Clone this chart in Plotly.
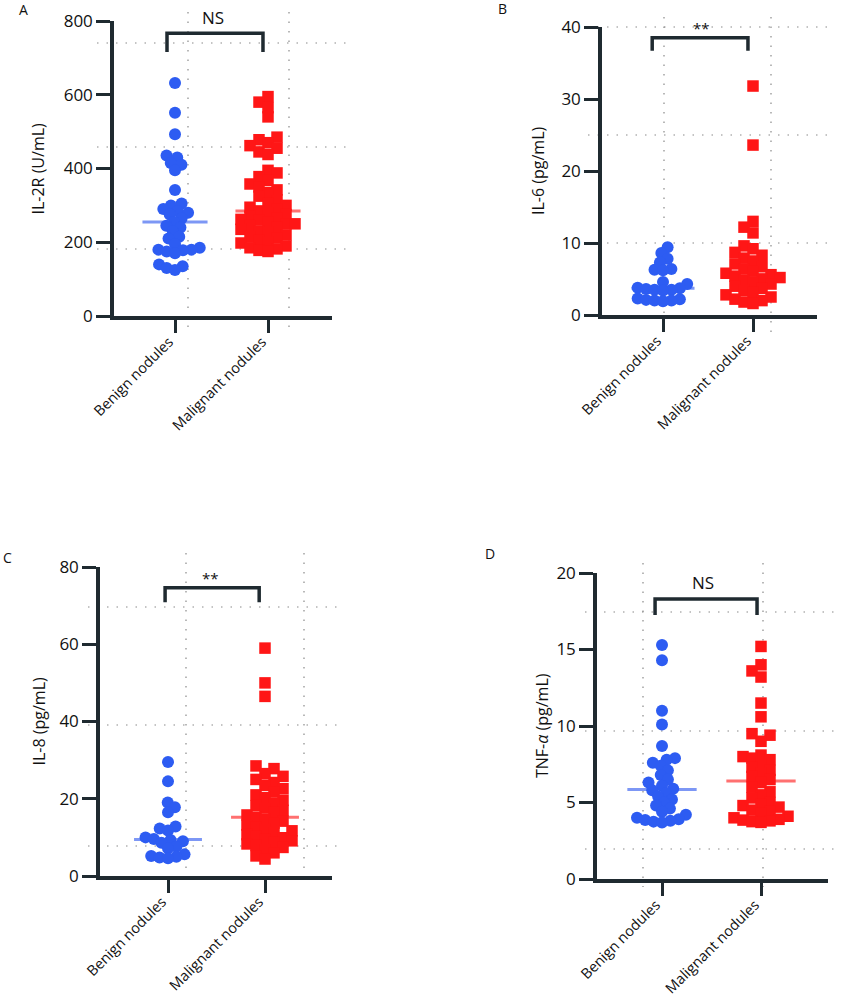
import numpy as np
import plotly.graph_objects as go

# ---------------- data ----------------
categories = ["Benign nodules", "Malignant nodules"]
panel_letters = ["A", "B", "C", "D"]
y_titles = ["IL-2R (U/mL)", "IL-6 (pg/mL)", "IL-8 (pg/mL)", "TNF-<i>α</i> (pg/mL)"]
y_max = [800, 40, 80, 20]
y_dtick = [200, 10, 20, 5]
significance = ["NS", "**", "**", "NS"]

il2r_benign = [632, 551, 493, 435, 430, 415, 410, 395, 342, 305, 300, 290, 285, 280, 275,
               265, 255, 245, 240, 230, 215, 210, 195, 185, 180, 180, 178, 175, 170,
               140, 135, 130, 125]
il2r_malignant = [595, 580, 565, 540, 485, 478, 470, 462, 455, 445, 438, 395, 388, 378,
                  368, 358, 350, 342, 335, 325, 315, 305, 300, 295, 290, 285, 280, 275,
                  270, 265, 262, 260, 255, 250, 250, 245, 240, 235, 230, 228, 220, 215,
                  212, 205, 200, 198, 190, 185, 182, 178, 175]
il6_benign = [9.4, 8.6, 7.8, 7.3, 6.4, 6.3, 6.2, 4.6, 4.3, 3.8, 3.7, 3.6, 3.5, 3.5, 3.4,
              2.3, 2.2, 2.1, 2.0, 2.0, 1.9]
il6_malignant = [31.8, 23.6, 13.0, 12.2, 11.4, 9.6, 9.2, 8.7, 8.3, 7.9, 7.5, 7.1, 6.7, 6.4,
                 6.1, 5.8, 5.6, 5.4, 5.2, 5.0, 4.8, 4.6, 4.3, 4.0, 3.7, 3.4, 3.1, 2.8, 2.5,
                 2.2, 2.0, 1.8, 1.6]
il8_benign = [29.5, 24.5, 19.0, 17.8, 16.5, 12.8, 12.3, 11.8, 10.0, 9.6, 9.3, 9.0, 8.6,
              7.6, 7.2, 5.6, 5.2, 5.0, 4.8, 4.6]
il8_malignant = [59, 50, 46.5, 28.5, 27.8, 26.5, 25.8, 25.0, 24.2, 23.5, 22.6, 21.8, 21.0,
                 20.3, 19.6, 18.9, 18.2, 17.6, 17.0, 16.4, 15.8, 15.2, 14.7, 14.2, 13.7,
                 13.2, 12.7, 12.2, 11.7, 11.2, 10.7, 10.3, 9.9, 9.5, 9.1, 8.7, 8.3, 7.9,
                 7.4, 6.8, 6.0, 5.2, 4.4]
tnf_benign = [15.3, 14.3, 11.0, 10.1, 8.7, 7.9, 7.8, 7.6, 7.4, 7.1, 6.8, 6.5, 6.3, 6.1,
              5.9, 5.8, 5.6, 5.4, 5.2, 5.0, 4.8, 4.6, 4.4, 4.2, 4.0, 3.9, 3.85, 3.8, 3.75, 3.7]
tnf_malignant = [15.2, 14.0, 13.6, 13.2, 11.5, 10.6, 9.5, 9.4, 9.0, 8.1, 8.0, 7.9, 7.8, 7.5,
                 7.3, 7.1, 6.9, 6.7, 6.5, 6.3, 6.0, 5.7, 5.5, 5.3, 5.0, 4.9, 4.8, 4.7, 4.5,
                 4.4, 4.3, 4.1, 4.0, 3.9, 3.85, 3.8, 3.75, 3.7]

panel_data = [
    (il2r_benign, il2r_malignant),
    (il6_benign, il6_malignant),
    (il8_benign, il8_malignant),
    (tnf_benign, tnf_malignant),
]

# ---------------- layout geometry (pixels) ----------------
W, H = 841, 1000
geom = [
    dict(yax=114, xend=332, ytop=21, ybot=316, cats=(175, 268), title_x=38, lx=23, ly=9),
    dict(yax=602, xend=817, ytop=27, ybot=315, cats=(663, 753), title_x=538, lx=502, ly=8),
    dict(yax=100, xend=332, ytop=567, ybot=876, cats=(168, 265), title_x=38, lx=7, ly=557),
    dict(yax=597, xend=828, ytop=573, ybot=879, cats=(662, 761), title_x=542, lx=490, ly=553),
]
# bracket in axis units; label x in category units and label lift (px) above bracket top
brackets = [
    dict(l=-0.086, r=0.946, top=767, bot=716, tx=0.41, lift=16),
    dict(l=-0.12, r=0.944, top=38.5, bot=36.7, tx=0.43, lift=10),
    dict(l=-0.03, r=0.94, top=74.6, bot=70.9, tx=0.44, lift=10),
    dict(l=-0.07, r=0.96, top=18.3, bot=17.25, tx=0.41, lift=17),
]
dotted = [
    dict(h=[43, 147, 249], hx=(97, 350), v=[188, 289], vy=(12, 333)),
    dict(h=[27, 135, 243], hx=(588, 833), v=[664, 771], vy=(17, 333)),
    dict(h=[607, 725, 846], hx=(88, 342), v=[186, 304], vy=(553, 883)),
    dict(h=[612, 731, 849], hx=(585, 837), v=[643, 763], vy=(563, 887)),
]

AX = "#1f2a30"
BLUE = "#2d5cf2"
RED = "#ff1616"
BLUE_L = "#7d97f5"
RED_L = "#ff7070"
FONT = "Open Sans"
MSIZE = 12


def swarm_offsets(values, d, ppy, ppx, square):
    vals = np.asarray(values, float)
    order = np.argsort(vals, kind="stable")
    px, py = [], []
    offs = np.zeros(len(vals))
    for k, idx in enumerate(order):
        y = vals[idx] * ppy
        cands = [0.0]
        for xj, yj in zip(px, py):
            dy = abs(y - yj)
            if dy < d:
                dx = d if square else np.sqrt(d * d - dy * dy)
                cands += [xj + dx, xj - dx]
        sign = 1 if k % 2 == 0 else -1
        cands.sort(key=lambda c: (round(abs(c), 4), -sign * c))
        chosen = 0.0
        for c in cands:
            ok = True
            for xj, yj in zip(px, py):
                dy = abs(y - yj)
                dxx = abs(c - xj)
                if square:
                    if dy < d - 1e-6 and dxx < d - 1e-6:
                        ok = False
                        break
                else:
                    if dxx * dxx + dy * dy < d * d - 1e-6:
                        ok = False
                        break
            if ok:
                chosen = c
                break
        px.append(chosen)
        py.append(y)
        offs[idx] = chosen / ppx
    return offs


fig = go.Figure()
annotations = []
shapes = []
layout_axes = {}

for i in range(4):
    g = geom[i]
    sfx = "" if i == 0 else str(i + 1)
    xa, ya = "x" + sfx, "y" + sfx
    c0, c1 = g["cats"]
    ppx = c1 - c0
    x0 = -(c0 - g["yax"]) / ppx
    x1 = 1 + (g["xend"] - c1) / ppx
    ppy = (g["ybot"] - g["ytop"]) / y_max[i]

    layout_axes["xaxis" + sfx] = dict(
        domain=[g["yax"] / W, g["xend"] / W], range=[x0, x1], anchor=ya, automargin=False,
        showline=True, linewidth=3.5, linecolor=AX, ticks="outside", ticklen=13,
        tickwidth=3, tickcolor=AX, tickvals=[0, 1], ticktext=categories,
        tickangle=-45, ticklabelshift=-6, ticklabelstandoff=-5,
        tickfont=dict(family=FONT, size=14.5, color="#111"),
        showgrid=False, zeroline=False, fixedrange=True)
    layout_axes["yaxis" + sfx] = dict(
        domain=[1 - g["ybot"] / H, 1 - g["ytop"] / H], range=[0, y_max[i]], anchor=xa,
        automargin=False, dtick=y_dtick[i], showline=True, linewidth=3.5, linecolor=AX,
        ticks="outside", ticklen=14, tickwidth=3, tickcolor=AX,
        tickfont=dict(family=FONT, size=17, color="#111"),
        showgrid=False, zeroline=False, fixedrange=True)

    benign, malignant = panel_data[i]
    groups = [(benign, BLUE, BLUE_L, "circle", False), (malignant, RED, RED_L, "square", True)]
    for gi, (vals, col, coll, sym, sq) in enumerate(groups):
        v = np.asarray(vals, float)
        med = np.median(v)
        fig.add_trace(go.Scatter(x=[gi - 0.35, gi + 0.35], y=[med, med], mode="lines",
                                 line=dict(color=coll, width=3), xaxis=xa, yaxis=ya,
                                 hoverinfo="skip", showlegend=False))
        offs = swarm_offsets(v, 9 if sq else 8.5, ppy, ppx, sq)
        fig.add_trace(go.Scatter(x=gi + offs, y=v, mode="markers",
                                 marker=dict(symbol=sym, size=MSIZE if not sq else MSIZE - 0.5,
                                             color=col, line=dict(width=0)),
                                 xaxis=xa, yaxis=ya, showlegend=False,
                                 name=categories[gi], cliponaxis=False))

    b = brackets[i]
    fig.add_trace(go.Scatter(x=[b["l"], b["l"], b["r"], b["r"]],
                             y=[b["bot"], b["top"], b["top"], b["bot"]], mode="lines",
                             line=dict(color=AX, width=3.5), xaxis=xa, yaxis=ya,
                             hoverinfo="skip", showlegend=False, cliponaxis=False))
    annotations.append(dict(x=b["tx"], y=b["top"], xref=xa, yref=ya, text=significance[i],
                            showarrow=False, yanchor="middle", yshift=b["lift"],
                            font=dict(family=FONT, size=17 if significance[i] == "NS" else 15,
                                      color="#111")))
    annotations.append(dict(x=g["title_x"] / W, y=1 - (g["ytop"] + g["ybot"]) / 2 / H,
                            xref="paper", yref="paper", text=y_titles[i], textangle=-90,
                            showarrow=False, xanchor="center", yanchor="middle",
                            font=dict(family=FONT, size=16, color="#111")))
    annotations.append(dict(x=g["lx"] / W, y=1 - g["ly"] / H, xref="paper", yref="paper",
                            text=panel_letters[i], showarrow=False, xanchor="center",
                            yanchor="middle", font=dict(family=FONT, size=14, color="#111")))
    dd = dotted[i]
    for hy in dd["h"]:
        shapes.append(dict(type="line", xref="paper", yref="paper", layer="below",
                           x0=dd["hx"][0] / W, x1=dd["hx"][1] / W, y0=1 - hy / H, y1=1 - hy / H,
                           line=dict(color="#8a8a8a", width=1.2, dash="1.5px,8px")))
    for vx in dd["v"]:
        shapes.append(dict(type="line", xref="paper", yref="paper", layer="below",
                           x0=vx / W, x1=vx / W, y0=1 - dd["vy"][0] / H, y1=1 - dd["vy"][1] / H,
                           line=dict(color="#8a8a8a", width=1.2, dash="1.5px,8px")))

fig.update_layout(width=W, height=H, margin=dict(l=0, r=0, t=0, b=0, autoexpand=False),
                  paper_bgcolor="white", plot_bgcolor="rgba(0,0,0,0)",
                  annotations=annotations, shapes=shapes, showlegend=False,
                  font=dict(family=FONT), **layout_axes)

fig.write_html("out.html", config={"displayModeBar": False},
               post_script="document.body.style.margin='0';document.body.style.overflow='hidden';")
